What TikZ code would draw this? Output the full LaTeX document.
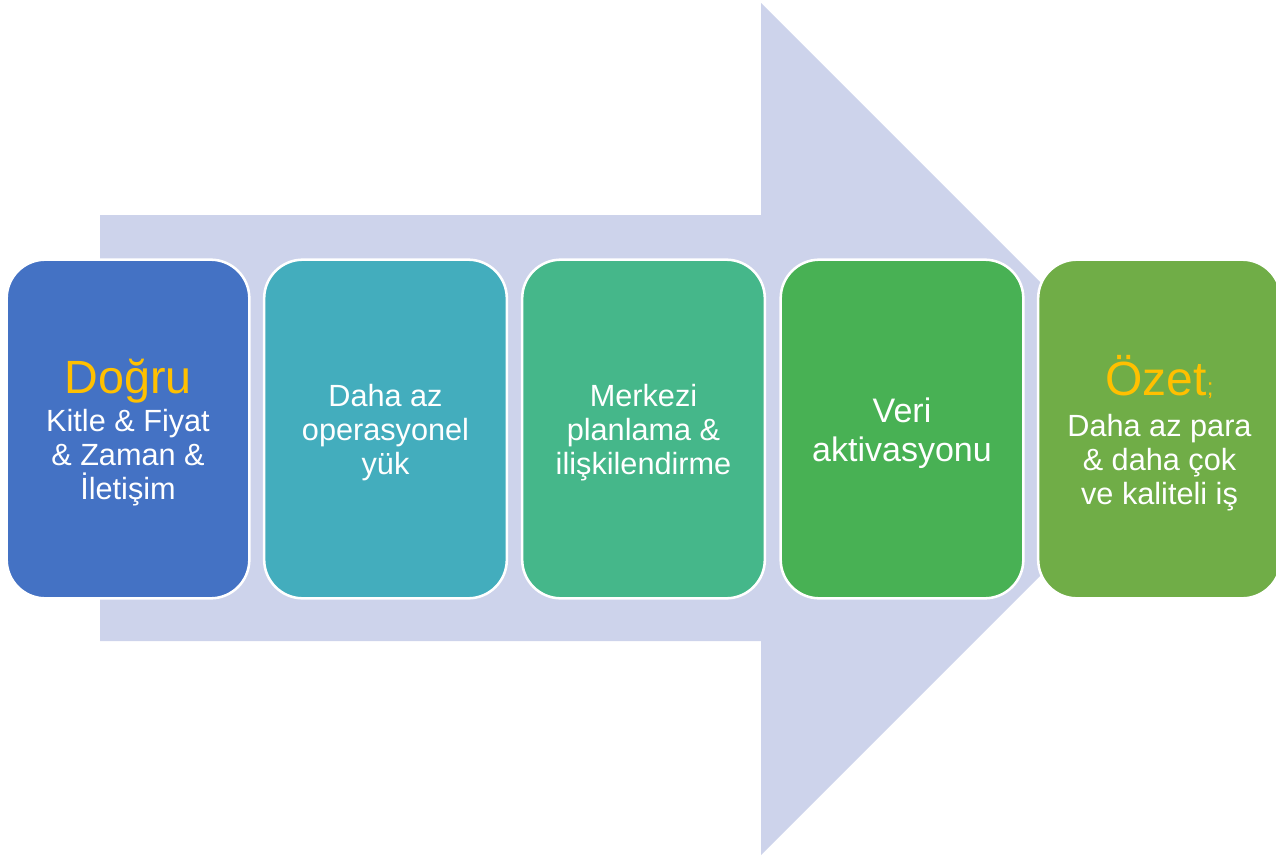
\documentclass[tikz,border=0pt]{standalone}
\usepackage{fontspec}
\setmainfont{Liberation Sans}
\definecolor{arrowc}{HTML}{CDD3EB}
\definecolor{c1}{HTML}{4472C4}
\definecolor{c2}{HTML}{43ADBD}
\definecolor{c3}{HTML}{45B78A}
\definecolor{c4}{HTML}{48B154}
\definecolor{c5}{HTML}{70AD47}
\definecolor{ylw}{HTML}{FFC000}
\begin{document}
\begin{tikzpicture}[x=0.75pt,y=-0.75pt,
  stage/.style={draw=white, line width=1.9pt, rounded corners=29pt,
    minimum width=182pt, minimum height=254pt, inner sep=0pt},
  stagetext/.style={text=white, align=center, inner sep=0pt,
    font=\fontsize{23}{25.5}\selectfont}]
\useasboundingbox (0,0) rectangle (1276,857);
\fill[arrowc] (100,215) -- (761,215) -- (761,3) -- (1187,429) -- (761,855) -- (761,641) -- (100,641) -- cycle;
\node[stage, fill=c1] (s1) at (128,429) {};
\node[stage, fill=c2] (s2) at (385.5,429) {};
\node[stage, fill=c3] (s3) at (643.5,429) {};
\node[stage, fill=c4] (s4) at (902,429) {};
\node[stage, fill=c5] (s5) at (1159.5,429) {};
\node[stagetext] (t1) at ([yshift=-3]s1.center)
  {{\fontsize{35}{29}\selectfont\color{ylw}Doğru}\\[3pt]Kitle \& Fiyat\\\& Zaman \&\\İletişim};
\node[stagetext] (t2) at ([yshift=-3]s2.center) {Daha az\\operasyonel\\yük};
\node[stagetext] (t3) at ([yshift=-3]s3.center) {Merkezi\\planlama \&\\ilişkilendirme};
\node[stagetext, font=\fontsize{25.5}{29}\selectfont] (t4) at ([yshift=-3]s4.center) {Veri\\aktivasyonu};
\node[stagetext] (t5) at ([yshift=-3]s5.center)
  {{\fontsize{36}{30}\selectfont\color{ylw}Özet{\fontsize{18}{18}\selectfont;}}\\[5pt]Daha az para\\\& daha çok\\ve kaliteli iş};
\end{tikzpicture}
\end{document}
